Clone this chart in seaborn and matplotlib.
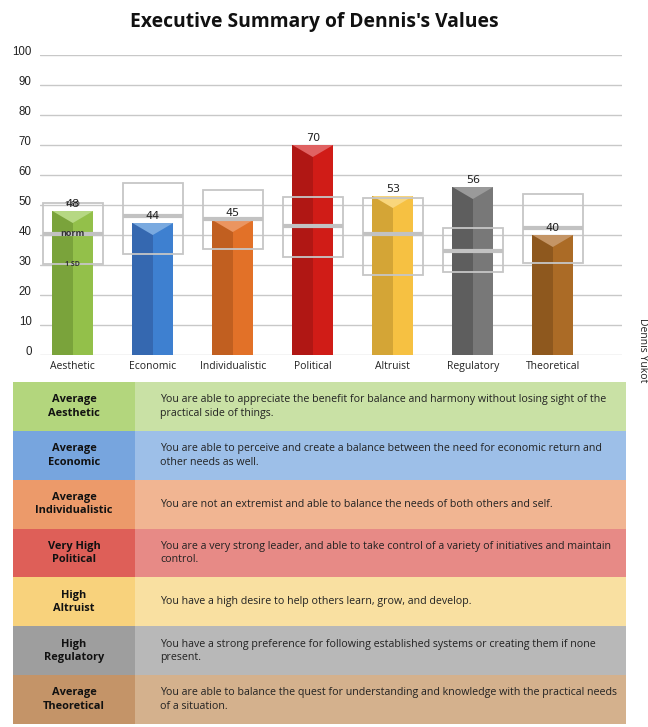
import matplotlib
matplotlib.use('Agg')
import matplotlib.pyplot as plt
import seaborn as sns
import pandas as pd
import numpy as np

# data
categories = ['Aesthetic', 'Economic', 'Individualistic', 'Political',
              'Altruist', 'Regulatory', 'Theoretical']
scores = [48, 44, 45, 70, 53, 56, 40]
norm = [40.5, 46.5, 45.5, 43.0, 40.2, 34.8, 42.2]
sd_low = [30.3, 33.7, 35.2, 32.8, 26.7, 27.7, 30.8]
sd_high = [50.7, 57.3, 55.0, 52.8, 52.4, 42.5, 53.7]
levels = ['Average', 'Average', 'Average', 'Very High', 'High', 'High', 'Average']
descriptions = [
    'You are able to appreciate the benefit for balance and harmony without losing sight of the\npractical side of things.',
    'You are able to perceive and create a balance between the need for economic return and\nother needs as well.',
    'You are not an extremist and able to balance the needs of both others and self.',
    'You are a very strong leader, and able to take control of a variety of initiatives and maintain\ncontrol.',
    'You have a high desire to help others learn, grow, and develop.',
    'You have a strong preference for following established systems or creating them if none\npresent.',
    'You are able to balance the quest for understanding and knowledge with the practical needs\nof a situation.',
]

# colours: light face, dark side, top triangle, table label cell, table text cell
face = ['#93c04a', '#3e80d0', '#e27128', '#d01c17', '#f6c142', '#787878', '#ab6b26']
side = ['#7aa33b', '#3568b0', '#c15f20', '#b01714', '#d4a536', '#5e5e5e', '#8e581e']
tops = ['#b6d883', '#7aaae0', '#eb9560', '#e06262', '#f9d67c', '#9a9a9a', '#c49566']
cell_left = ['#b3d67d', '#77a5de', '#ec9a6a', '#de5f58', '#f8d27c', '#9e9e9e', '#c49468']
cell_right = ['#c9e1a5', '#9dbfe8', '#f1b592', '#e78a86', '#f9e0a1', '#b8b8b8', '#d4b18d']

sns.set_style('white')
plt.rcParams['font.family'] = ['Open Sans', 'DejaVu Sans']

df = pd.DataFrame({'cat': categories, 'score': scores})

fig = plt.figure(figsize=(6.48, 7.27), dpi=100)
ax = fig.add_axes([0.0617, 0.5117, 0.8983, 0.4126])

bw = 0.51
sns.barplot(data=df, x='cat', y='score', hue='cat', palette=face, legend=False,
            width=bw, saturation=1, linewidth=0, ax=ax, zorder=2)
xs = np.arange(len(categories))
ax.bar(xs, scores, width=-bw / 2, align='edge', color=side, linewidth=0, zorder=2.1)
for i, v in enumerate(scores):
    ax.fill([i - bw / 2, i + bw / 2, i], [v, v, v - 4], color=tops[i], zorder=2.2, lw=0)
    ax.text(i, v + 0.8, str(v), ha='center', va='bottom', fontsize=8, color='#222222',
            family='DejaVu Sans', zorder=4)

# norm boxes (+/- 1 SD) and norm lines
box_w = 0.75
ax.bar(xs, np.array(sd_high) - np.array(sd_low), bottom=sd_low, width=box_w,
       fill=False, edgecolor='#c6c6c6', linewidth=1.3, zorder=3)
ax.hlines(norm, xs - box_w / 2, xs + box_w / 2, color='#c2c2c2', linewidth=3, zorder=3.1)
ax.text(0, norm[0], 'norm', ha='center', va='center', fontsize=6.5, fontweight='bold',
        color='#333333', zorder=4)
ax.text(0, sd_low[0], '1 SD', ha='center', va='center', fontsize=5, fontweight='bold',
        color='#333333', zorder=4)
ax.text(0, sd_high[0] - 0.6, '1 SD', ha='center', va='center', fontsize=5, fontweight='bold',
        color='#555555', zorder=3.5)

ax.set_ylim(0, 100)
ax.set_xlim(-0.41, 6.865)
ax.set_yticks(range(0, 101, 10))
ax.yaxis.grid(True, color='#c8c8c8', linewidth=1)
ax.set_axisbelow(True)
for s in ax.spines.values():
    s.set_visible(False)
ax.tick_params(axis='y', labelsize=8.3, pad=6, length=0, labelcolor='#222222')
ax.tick_params(axis='x', labelsize=7.5, pad=4, length=0, labelcolor='#222222')
for lab in ax.get_yticklabels():
    lab.set_family('Liberation Sans')
    lab.set_verticalalignment('baseline')
ax.set_xlabel('')
ax.set_ylabel('')

fig.text(0.485, 0.97, "Executive Summary of Dennis's Values", ha='center', va='center',
         fontsize=13.9, fontweight='bold', color='#111111')
fig.text(0.992, 0.518, 'Dennis Yukot', rotation=-90, ha='center', va='center',
         fontsize=7.5, color='#222222')

# summary table
tx = fig.add_axes([0.02, 0.0041, 0.946, 0.4704])
n = len(categories)
tx.set_xlim(0, 613)
tx.set_ylim(n, 0)
tx.axis('off')
split = 122
for i in range(n):
    tx.add_patch(plt.Rectangle((0, i), split, 1, color=cell_left[i], lw=0))
    tx.add_patch(plt.Rectangle((split, i), 613 - split, 1, color=cell_right[i], lw=0))
    tx.text(split / 2, i + 0.5, levels[i] + '\n' + categories[i], ha='center', va='center',
            fontsize=7.9, fontweight='bold', color='#111111', linespacing=1.3)
    tx.text(147, i + 0.5, descriptions[i], ha='left', va='center', fontsize=7.7,
            color='#222222', linespacing=1.3)

fig.savefig('out.png', dpi=100)
